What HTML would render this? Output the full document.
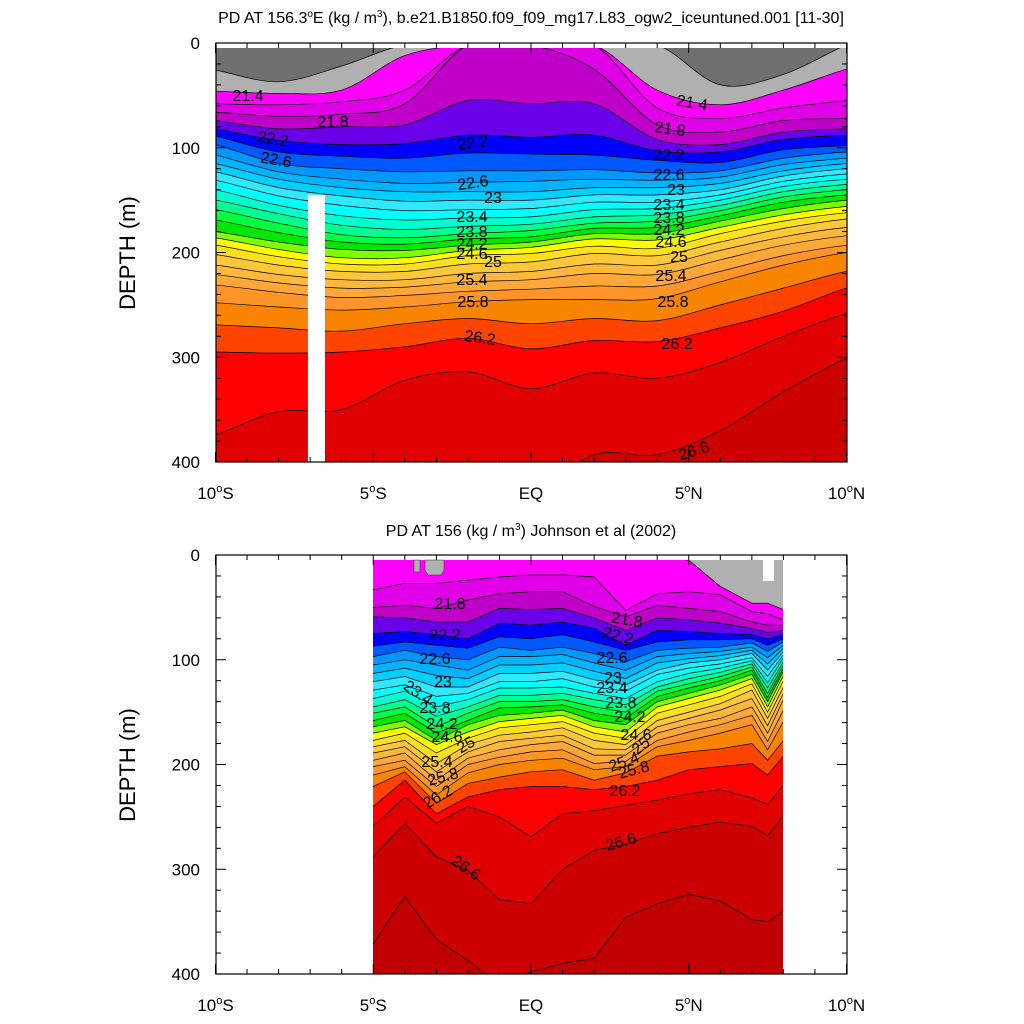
<!DOCTYPE html>
<html><head><meta charset="utf-8"><style>
html,body{margin:0;padding:0;background:#fff;}
svg{display:block;font-family:"Liberation Sans",sans-serif;}
</style></head><body>
<svg id="svg" width="1024" height="1024" viewBox="0 0 1024 1024" xmlns="http://www.w3.org/2000/svg">
<defs>
<clipPath id="clipTop"><rect x="216" y="48" width="631" height="414"/></clipPath>
<clipPath id="clipBot"><rect x="373" y="560" width="410" height="414"/></clipPath>
</defs>
<g id="topFill" clip-path="url(#clipTop)"></g>
<g id="botFill" clip-path="url(#clipBot)"></g>
<g id="deco"></g>
<g id="axes"></g>
<g font-size="16" fill="#000">
<text x="248" y="101" text-anchor="middle">21.4</text>
<text x="333" y="127" text-anchor="middle">21.8</text>
<text x="273" y="144" text-anchor="middle" transform="rotate(10 273 139)">22.2</text>
<text x="276" y="165" text-anchor="middle" transform="rotate(10 276 160)">22.6</text>
<text x="473" y="148" text-anchor="middle" transform="rotate(-8 473 143)">22.2</text>
<text x="473" y="188" text-anchor="middle" transform="rotate(-8 473 183)">22.6</text>
<text x="493" y="203" text-anchor="middle">23</text>
<text x="472" y="222" text-anchor="middle">23.4</text>
<text x="472" y="237" text-anchor="middle">23.8</text>
<text x="472" y="249" text-anchor="middle">24.2</text>
<text x="472" y="259" text-anchor="middle">24.6</text>
<text x="493" y="267" text-anchor="middle">25</text>
<text x="472" y="285" text-anchor="middle">25.4</text>
<text x="473" y="307" text-anchor="middle">25.8</text>
<text x="480" y="343" text-anchor="middle" transform="rotate(8 480 338)">26.2</text>
<text x="692" y="108" text-anchor="middle" transform="rotate(10 692 103)">21.4</text>
<text x="670" y="134" text-anchor="middle" transform="rotate(8 670 129)">21.8</text>
<text x="669" y="160" text-anchor="middle">22.2</text>
<text x="669" y="180" text-anchor="middle">22.6</text>
<text x="676" y="195" text-anchor="middle">23</text>
<text x="669" y="210" text-anchor="middle">23.4</text>
<text x="669" y="223" text-anchor="middle">23.8</text>
<text x="669" y="235" text-anchor="middle">24.2</text>
<text x="671" y="247" text-anchor="middle">24.6</text>
<text x="679" y="262" text-anchor="middle">25</text>
<text x="671" y="281" text-anchor="middle">25.4</text>
<text x="673" y="307" text-anchor="middle">25.8</text>
<text x="677" y="349" text-anchor="middle">26.2</text>
<text x="694" y="456" text-anchor="middle" transform="rotate(-18 694 451)">26.6</text>
</g>
<g font-size="16" fill="#000">
<text x="450" y="609" text-anchor="middle">21.8</text>
<text x="445" y="640" text-anchor="middle">22.2</text>
<text x="435" y="664" text-anchor="middle">22.6</text>
<text x="443" y="687" text-anchor="middle">23</text>
<text x="418" y="698" text-anchor="middle" transform="rotate(35 418 693)">23.4</text>
<text x="435" y="713" text-anchor="middle">23.8</text>
<text x="442" y="729" text-anchor="middle">24.2</text>
<text x="447" y="742" text-anchor="middle">24.6</text>
<text x="466" y="750" text-anchor="middle" transform="rotate(-30 466 745)">25</text>
<text x="437" y="767" text-anchor="middle">25.4</text>
<text x="443" y="782" text-anchor="middle" transform="rotate(-15 443 777)">25.8</text>
<text x="438" y="802" text-anchor="middle" transform="rotate(-30 438 797)">26.2</text>
<text x="466" y="873" text-anchor="middle" transform="rotate(35 466 868)">26.6</text>
<text x="627" y="625" text-anchor="middle" transform="rotate(10 627 620)">21.8</text>
<text x="618" y="641" text-anchor="middle" transform="rotate(15 618 636)">22.2</text>
<text x="612" y="663" text-anchor="middle">22.6</text>
<text x="613" y="683" text-anchor="middle">23</text>
<text x="612" y="693" text-anchor="middle">23.4</text>
<text x="621" y="708" text-anchor="middle">23.8</text>
<text x="630" y="722" text-anchor="middle">24.2</text>
<text x="636" y="740" text-anchor="middle">24.6</text>
<text x="641" y="751" text-anchor="middle" transform="rotate(-40 641 746)">25</text>
<text x="624" y="767" text-anchor="middle" transform="rotate(-20 624 762)">25.4</text>
<text x="634" y="775" text-anchor="middle" transform="rotate(-15 634 770)">25.8</text>
<text x="625" y="796" text-anchor="middle">26.2</text>
<text x="621" y="847" text-anchor="middle" transform="rotate(-15 621 842)">26.6</text>
</g>
<text x="531" y="23" text-anchor="middle" font-size="16">PD AT 156.3<tspan font-size="10" dy="-6">o</tspan><tspan dy="6">E (kg / m</tspan><tspan font-size="10" dy="-6">3</tspan><tspan dy="6">), b.e21.B1850.f09_f09_mg17.L83_ogw2_iceuntuned.001 [11-30]</tspan></text>
<text x="531" y="536" text-anchor="middle" font-size="16">PD AT 156 (kg / m<tspan font-size="10" dy="-6">3</tspan><tspan dy="6">) Johnson et al (2002)</tspan></text>
<text transform="translate(135 253) rotate(-90)" text-anchor="middle" font-size="22">DEPTH (m)</text>
<text transform="translate(135 765) rotate(-90)" text-anchor="middle" font-size="22">DEPTH (m)</text>
</svg>
<script>
const topLats = [-10,-8,-6,-4,-2,0,2,4,6,8,10];
const topLevels = [21.2,21.4,21.6,21.8,22.0,22.2,22.4,22.6,22.8,23.0,23.2,23.4,23.6,23.8,24.0,24.2,24.4,24.6,24.8,25.0,25.2,25.4,25.6,25.8,26.0,26.2,26.4,26.6];
const topDepths = [
[26,37,22,2,2,2,2,2,40,30,2],
[46,48,45,12,2,2,2,45,59,45,25],
[58,59,56,45,2,2,2,62,72,62,55],
[66,70,68,58,2,2,25,78,85,74,72],
[74,82,80,78,55,58,58,92,97,85,82],
[82,93,97,96,88,90,88,103,104,92,88],
[89,104,108,110,105,106,107,112,114,102,98],
[97,115,120,123,122,122,121,124,122,110,104],
[107,123,130,134,133,132,130,131,128,116,110],
[115,130,138,142,142,142,138,138,134,122,115],
[123,138,146,151,150,150,145,145,140,127,120],
[131,146,155,160,159,158,152,152,145,132,125],
[140,155,165,169,167,166,159,158,150,137,130],
[150,163,174,178,175,173,166,164,155,142,135],
[159,172,183,186,182,179,172,170,160,147,140],
[169,181,190,192,187,185,177,176,165,152,145],
[180,190,197,198,193,190,182,182,170,158,150],
[186,197,205,205,198,195,187,188,176,164,156],
[193,204,211,211,203,201,194,196,182,170,162],
[202,212,218,218,211,209,201,203,190,177,168],
[212,221,226,226,220,218,211,212,198,185,176],
[221,229,234,233,228,226,220,221,207,193,184],
[231,238,243,241,237,235,232,232,218,203,193],
[248,252,255,252,247,245,245,244,228,212,200],
[269,272,275,268,263,268,263,265,250,234,218],
[295,296,295,290,282,292,284,285,272,256,234],
[374,352,350,322,314,330,315,320,305,280,258],
[430,430,430,400,410,430,393,393,370,333,301]
];
const botLats = [-5,-4,-3,-2,-1,0,1,2,3,4,5,6,7,7.5,8];
const botLevels = [21.4,21.6,21.8,22.0,22.2,22.4,22.6,22.8,23.0,23.2,23.4,23.6,23.8,24.0,24.2,24.4,24.6,24.8,25.0,25.2,25.4,25.6,25.8,26.0,26.2,26.4,26.6,26.8];
const botColumns = [
[2,33,50,59,75,87,97,105,113,121,129,137,145,151,158,164,170,177,183,189,196,202,210,221,240,259,288,371],
[2,27,48,60,73,83,91,100,108,116,124,130,138,145,151,158,164,170,177,183,189,196,202,207,215,231,256,326],
[2,27,51,64,76,86,97,105,115,126,135,145,154,164,170,177,181,189,199,207,215,221,229,237,247,256,288,367],
[2,24,43,64,80,89,100,110,118,126,132,138,145,151,158,162,169,175,181,188,194,200,208,218,231,240,301,387],
[2,21,37,51,65,78,88,97,105,113,121,127,134,140,146,153,159,165,172,178,186,193,200,212,224,250,329,410],
[2,19,35,52,67,80,91,97,105,113,121,127,134,140,145,151,156,162,169,175,181,188,196,207,221,269,333,398],
[2,19,35,51,64,76,88,95,103,111,118,126,132,138,143,148,153,159,165,172,178,186,194,205,221,247,300,390],
[2,21,49,60,70,83,94,103,111,119,126,132,138,145,151,158,164,170,177,185,191,199,205,215,224,244,282,385],
[2,53,59,72,86,91,102,110,118,124,130,137,143,150,156,162,169,175,181,186,191,197,202,208,221,239,276,346],
[2,37,48,60,72,83,91,97,103,110,114,121,126,130,135,140,145,151,158,164,170,177,183,192,215,234,266,333],
[5,35,51,62,73,81,89,94,99,103,108,113,118,123,127,132,137,143,150,156,162,169,177,188,205,228,260,324],
[30,38,54,65,75,81,88,92,96,100,104,108,112,116,120,124,129,135,142,148,156,162,170,185,202,224,255,330],
[46,54,64,70,76,80,84,88,91,94,98,101,104,107,110,114,118,123,129,137,145,153,162,180,199,232,259,348],
[46,56,67,74,80,86,92,98,104,110,116,122,127,132,136,140,145,150,156,163,170,178,186,196,210,238,268,350],
[52,62,67,72,76,80,83,86,89,92,95,98,102,105,108,111,115,120,126,132,138,148,159,177,192,220,249,340]
];
const levelColors = {
"21.2":"#b0b0b0","21.4":"#ff00ff","21.6":"#e000e8","21.8":"#c000c8","22.0":"#6a00e8",
"22.2":"#0000ff","22.4":"#0058ff","22.6":"#0098ff","22.8":"#00b4ff","23.0":"#00d0ff",
"23.2":"#30e8ff","23.4":"#00ffff","23.6":"#00ffd0","23.8":"#00ff90","24.0":"#00ff40",
"24.2":"#00e800","24.4":"#80ff00","24.6":"#ffff00","24.8":"#ffe020","25.0":"#ffc838",
"25.2":"#ffb838","25.4":"#ffa838","25.6":"#ff9428","25.8":"#f88400","26.0":"#ff4400",
"26.2":"#ff0000","26.4":"#e00000","26.6":"#cc0000","26.8":"#c00000"
};
const xTickLabels = ["10°S","5°S","EQ","5°N","10°N"];
const xTickLats = [-10,-5,0,5,10];
const yTickLabels = ["0","100","200","300","400"];
const yTickDepths = [0,100,200,300,400];

const NS="http://www.w3.org/2000/svg";
function xOf(lat){return 531+lat*31.55;}
function yTopOf(d){return 43+d*1.0475;}
function yBotOf(d){return 555+d*1.0475;}
function mk(tag,attrs,parent){const e=document.createElementNS(NS,tag);for(const k in attrs)e.setAttribute(k,attrs[k]);parent.appendChild(e);return e;}
function smoothPath(pts){
  let d='M'+pts[0][0].toFixed(1)+','+pts[0][1].toFixed(1);
  for(let i=0;i<pts.length-1;i++){
    const p0=pts[Math.max(0,i-1)],p1=pts[i],p2=pts[i+1],p3=pts[Math.min(pts.length-1,i+2)];
    const c1=[p1[0]+(p2[0]-p0[0])/6,p1[1]+(p2[1]-p0[1])/6];
    const c2=[p2[0]-(p3[0]-p1[0])/6,p2[1]-(p3[1]-p1[1])/6];
    d+=' C'+c1[0].toFixed(1)+','+c1[1].toFixed(1)+' '+c2[0].toFixed(1)+','+c2[1].toFixed(1)+' '+p2[0].toFixed(1)+','+p2[1].toFixed(1);
  }
  return d;
}
function linePath(pts){return 'M'+pts.map(p=>p[0].toFixed(1)+','+p[1].toFixed(1)).join(' L');}
function drawPanel(g,lats,levels,depthOf,yOf,bg,smooth,x0,x1,yb,prefix){
  const r=mk('rect',{x:x0,y:yOf(0)-5,width:x1-x0,height:yb-yOf(0)+10,fill:bg},g);
  
  
  const curves=[];
  levels.forEach((lv,k)=>{
    const pts=lats.map((la,i)=>[xOf(la),yOf(depthOf(k,i))]);
    const ext=[[x0-20,pts[0][1]],...pts,[x1+20,pts[pts.length-1][1]]];
    const cd=smooth?smoothPath(ext):linePath(ext);
    curves.push(cd);
    const p=mk('path',{d:cd+' L'+(x1+20)+','+(yb+10)+' L'+(x0-20)+','+(yb+10)+' Z',fill:levelColors[lv.toFixed(1)]},g);
    
    
  });
  curves.forEach((cd,k)=>{
    const l=mk('path',{d:cd,fill:'none',stroke:'#000','stroke-width':0.7},g);
    
    
  });
}
drawPanel(document.getElementById('topFill'),topLats,topLevels,(k,i)=>topDepths[k][i],yTopOf,'#707070',true,216,847,462,'top');
drawPanel(document.getElementById('botFill'),botLats,botLevels,(k,i)=>botColumns[i][k],yBotOf,'#b0b0b0',false,373,783,974,'bottom');

const deco=document.getElementById('deco');
const gap=mk('rect',{x:xOf(-7.07),y:yTopOf(145),width:17,height:yTopOf(400)-yTopOf(145),fill:'#fff'},deco);


const g1=mk('rect',{x:414,y:560,width:6,height:12,fill:'#b0b0b0',stroke:'#333','stroke-width':0.5},deco);


const g2=mk('path',{d:'M425,560 L444,560 L444,570 L441,575 L428,575 L425,570 Z',fill:'#b0b0b0',stroke:'#333','stroke-width':0.5},deco);


const g3=mk('rect',{x:763,y:560,width:11,height:21,fill:'#fff'},deco);



const axes=document.getElementById('axes');
function frame(yTop,prefix,yOf){
  const f=mk('rect',{x:216,y:yTop,width:631,height:419,fill:'none',stroke:'#000','stroke-width':1.2},axes);
  
  
  const yb=yTop+419;
  for(let la=-10;la<=10;la++){
    const maj=la%5===0, len=maj?10:5, x=xOf(la);
    const t1=mk('line',{x1:x,y1:yb,x2:x,y2:yb-len,stroke:'#000','stroke-width':1},axes);
    
    
    const t2=mk('line',{x1:x,y1:yTop,x2:x,y2:yTop+len,stroke:'#000','stroke-width':1},axes);
    
    
  }
  for(let d=0;d<=400;d+=20){
    const maj=d%100===0, len=maj?10:5, y=yOf(d);
    const t1=mk('line',{x1:216,y1:y,x2:216+len,y2:y,stroke:'#000','stroke-width':1},axes);
    
    
    const t2=mk('line',{x1:847,y1:y,x2:847-len,y2:y,stroke:'#000','stroke-width':1},axes);
    
    
  }
  xTickLabels.forEach((lab,i)=>{
    const t=mk('text',{x:xOf(xTickLats[i]),y:yb+37,'text-anchor':'middle','font-size':17},axes);
    
    
    const m=lab.match(/^(\d+)°([NS])$/);
    if(m){
      const a=document.createElementNS(NS,'tspan');a.textContent=m[1];t.appendChild(a);
      const b=document.createElementNS(NS,'tspan');b.setAttribute('font-size','11');b.setAttribute('dy','-7');b.textContent='o';t.appendChild(b);
      const c=document.createElementNS(NS,'tspan');c.setAttribute('dy','7');c.textContent=m[2];t.appendChild(c);
    } else t.textContent=lab;
  });
  yTickLabels.forEach((lab,i)=>{
    const t=mk('text',{x:200,y:yOf(yTickDepths[i])+6,'text-anchor':'end','font-size':17},axes);
    
    
    t.textContent=lab;
  });
}
frame(43,'top',yTopOf);
frame(555,'bottom',yBotOf);
</script>
</body></html>
